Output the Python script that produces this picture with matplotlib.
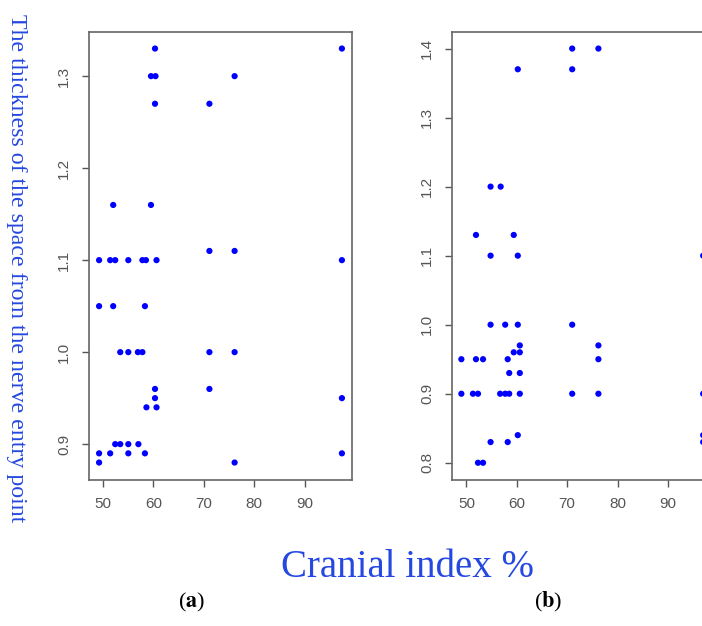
import matplotlib
matplotlib.use('Agg')
from matplotlib import pyplot as plt

# (a) panel data
a_x = [60.3, 97.4,
       59.5, 60.4, 76.1,
       60.3, 71.1,
       52.0, 59.5,
       71.1, 76.1,
       49.2, 51.4, 52.4, 55.0, 57.8, 58.5, 60.6, 97.4,
       49.2, 52.0, 58.3,
       53.4, 55.0, 56.9, 57.8, 71.1, 76.1,
       60.3, 71.1,
       60.3, 97.4,
       58.6, 60.6,
       52.4, 53.4, 55.0, 57.0,
       49.2, 51.4, 55.0, 58.3, 97.4,
       49.2, 76.1]
a_y = [1.33, 1.33,
       1.30, 1.30, 1.30,
       1.27, 1.27,
       1.16, 1.16,
       1.11, 1.11,
       1.10, 1.10, 1.10, 1.10, 1.10, 1.10, 1.10, 1.10,
       1.05, 1.05, 1.05,
       1.00, 1.00, 1.00, 1.00, 1.00, 1.00,
       0.96, 0.96,
       0.95, 0.95,
       0.94, 0.94,
       0.90, 0.90, 0.90, 0.90,
       0.89, 0.89, 0.89, 0.89, 0.89,
       0.88, 0.88]

# (b) panel data
b_x = [71.0, 76.2,
       60.2, 71.0,
       54.8, 56.8,
       51.9, 59.4,
       54.8, 60.2, 97.0,
       54.8, 57.7, 60.2, 71.0,
       60.6, 76.2,
       59.4, 60.6,
       49.0, 51.9, 53.3, 58.2, 76.2,
       58.5, 60.6,
       49.0, 51.3, 52.3, 56.7, 57.7, 58.5, 60.6, 71.0, 76.2, 97.0,
       60.2, 97.0,
       54.8, 58.2, 97.0,
       52.3, 53.3]
b_y = [1.40, 1.40,
       1.37, 1.37,
       1.20, 1.20,
       1.13, 1.13,
       1.10, 1.10, 1.10,
       1.00, 1.00, 1.00, 1.00,
       0.97, 0.97,
       0.96, 0.96,
       0.95, 0.95, 0.95, 0.95, 0.95,
       0.93, 0.93,
       0.90, 0.90, 0.90, 0.90, 0.90, 0.90, 0.90, 0.90, 0.90, 0.90,
       0.84, 0.84,
       0.83, 0.83, 0.83,
       0.80, 0.80]

x_ticks = [50, 60, 70, 80, 90]
a_yticks = [0.9, 1.0, 1.1, 1.2, 1.3]
b_yticks = [0.8, 0.9, 1.0, 1.1, 1.2, 1.3, 1.4]

plt.rcParams['font.family'] = ['Liberation Sans', 'DejaVu Sans']
plt.rcParams['mathtext.fontset'] = 'stix'

fig = plt.figure(figsize=(7.02, 6.26), dpi=100)
ax1 = fig.add_axes([0.1268, 0.2332, 0.3746, 0.7157])
ax2 = fig.add_axes([0.6443, 0.2332, 0.3746, 0.7157])

text_blue = '#2448e0'
gray = '#555555'

for ax, xs, ys, yt, ylim in [(ax1, a_x, a_y, a_yticks, (0.861, 1.348)),
                             (ax2, b_x, b_y, b_yticks, (0.775, 1.424))]:
    ax.scatter(xs, ys, s=20, color='#0000ff', edgecolors='none', zorder=3)
    ax.set_xlim(47.2, 99.4)
    ax.set_ylim(*ylim)
    ax.set_xticks(x_ticks)
    ax.set_yticks(yt)
    ax.set_yticklabels(['%.1f' % v for v in yt], rotation=90, va='center')
    ax.tick_params(direction='out', length=5, width=1, colors=gray,
                   labelsize=11, pad=7)
    ax.tick_params(axis='y', pad=8)
    for sp in ax.spines.values():
        sp.set_color('#666666')
        sp.set_linewidth(1.2)

# shared labels
fig.text(0.024, 0.572, 'The thickness of the space from the nerve entry point',
         rotation=270, ha='center', va='center', color=text_blue,
         family='Liberation Serif', fontsize=17.2)
fig.text(0.581, 0.093, 'Cranial index %', ha='center', va='center',
         color=text_blue, family='Liberation Serif', fontsize=28)

fig.text(0.2735, 0.038, r'($\mathbf{a}$)', ha='center', va='center',
         family='Liberation Serif', fontsize=16)
fig.text(0.7806, 0.038, r'($\mathbf{b}$)', ha='center', va='center',
         family='Liberation Serif', fontsize=16)

plt.savefig('out.png', dpi=100)
